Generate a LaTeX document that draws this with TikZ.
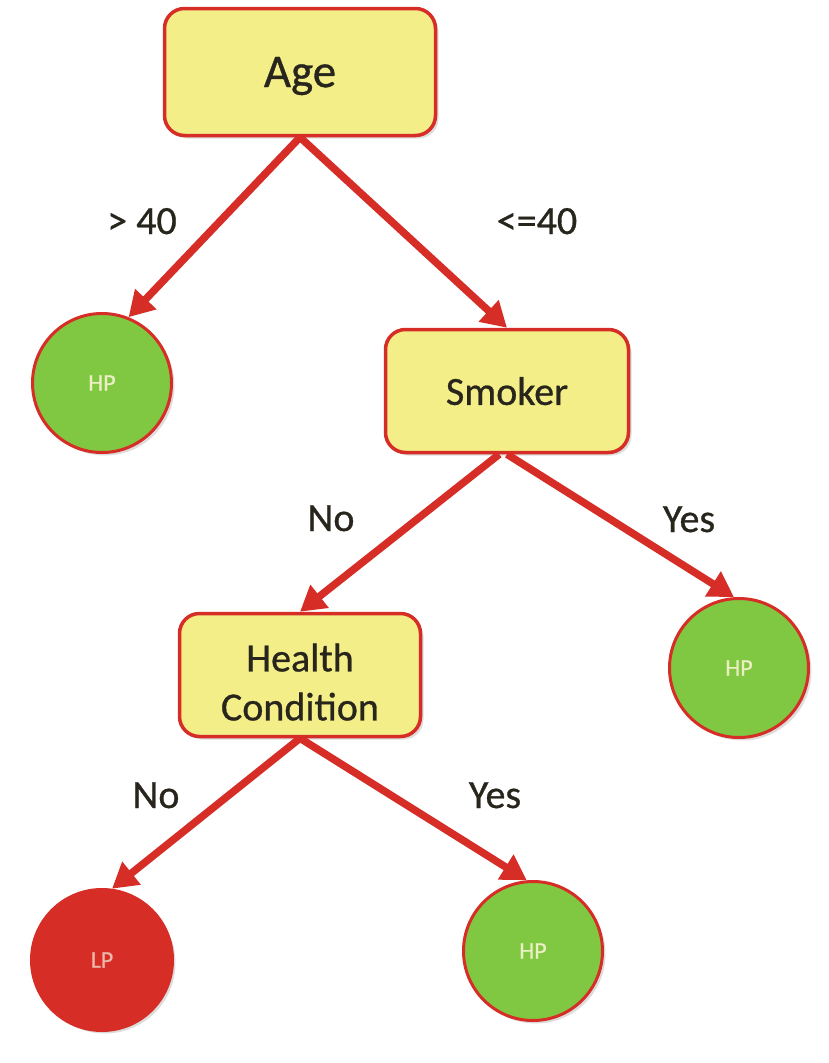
\documentclass[tikz,border=0pt]{standalone}
\usepackage{fontspec}
\setmainfont{Carlito}
\newfontface\heavyface{Carlito}[FakeBold=0.7]
\usetikzlibrary{arrows.meta,shadows}
\definecolor{boxyellow}{RGB}{243,238,136}
\definecolor{treered}{RGB}{214,45,38}
\definecolor{leafgreen}{RGB}{128,200,65}
\definecolor{darktext}{RGB}{40,38,28}
\definecolor{hptext}{RGB}{236,238,196}
\definecolor{lptext}{RGB}{236,184,172}
\tikzset{
  softshadow/.style={drop shadow={shadow xshift=3pt, shadow yshift=-3pt, opacity=0.22, fill=black!60}},
  decision/.style={draw=treered, line width=3.5pt, fill=boxyellow, rounded corners=20pt,
    text=darktext, text depth=0pt, align=center, inner sep=0pt, softshadow},
  leaf/.style={circle, draw=treered, line width=3pt, minimum size=139pt, inner sep=0pt,
    font=\heavyface\fontsize{24}{27}\selectfont, softshadow},
  hpleaf/.style={leaf, fill=leafgreen, text=hptext},
  lpleaf/.style={leaf, fill=treered, text=lptext},
  edgelabel/.style={anchor=base, text=darktext, font=\heavyface\fontsize{40}{48}\selectfont, inner sep=0pt},
  branch/.style={draw=treered, line width=7.5pt, -{Triangle[length=25pt,width=28pt]}}
}
\begin{document}
\begin{tikzpicture}[x=1pt,y=-1pt]
\useasboundingbox (0,0) rectangle (829,1063);
% nodes
\node[decision, minimum width=271pt, minimum height=127pt, font=\heavyface\fontsize{47}{56}\selectfont] (age) at (300,72) {Age};
\node[decision, minimum width=243pt, minimum height=123pt, font=\heavyface\fontsize{40}{49}\selectfont] (smoker) at (507,391) {Smoker};
\node[decision, minimum width=241pt, minimum height=123pt, font=\heavyface\fontsize{40}{49}\selectfont] (health) at (300,675) {\raisebox{18pt}{\parbox{220pt}{\centering Health\\ Condition}}};
\node[hpleaf] (hp1) at (102,383) {HP};
\node[hpleaf] (hp2) at (739,668) {HP};
\node[lpleaf, minimum size=141pt] (lp) at (102,960) {LP};
\node[hpleaf] (hp3) at (533,951) {HP};
% edge labels
\node[edgelabel] (l1) at (142,234) {> 40};
\node[edgelabel] (l2) at (537,234) {<=40};
\node[edgelabel] (l3) at (331,531) {No};
\node[edgelabel] (l4) at (689,532) {Yes};
\node[edgelabel] (l5) at (156,808) {No};
\node[edgelabel] (l6) at (495,808) {Yes};
% connectors
\draw[branch] (age.south) -- (hp1.68);
\draw[branch] (age.south) -- (smoker.north);
\draw[branch] (smoker.263) -- (health.north);
\draw[branch] (smoker.south) -- (hp2.94);
\draw[branch] (health.south) -- (lp.82);
\draw[branch] (health.south) -- (hp3.95);
\end{tikzpicture}
\end{document}
